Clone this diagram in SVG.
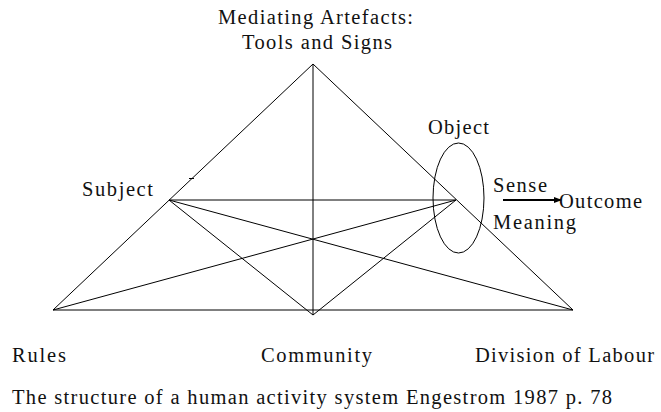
<svg xmlns="http://www.w3.org/2000/svg" width="661" height="412" viewBox="0 0 661 412">
<style>
  .ln { stroke: #000; stroke-width: 1; fill: none; }
  text { font-size: 20.5px; fill: #111; }
</style>
<defs>
  <marker id="arr" markerWidth="8" markerHeight="6" refX="7" refY="3" orient="auto" markerUnits="userSpaceOnUse">
    <path d="M0,0 L8,3 L0,6 Z" fill="#000"/>
  </marker>
</defs>
<rect width="661" height="412" fill="#fff"/>
<g id="connectors">
  <line class="ln" x1="313" y1="64" x2="53" y2="310"/>
  <line class="ln" x1="313" y1="64" x2="573" y2="310"/>
  <line class="ln" x1="53" y1="310" x2="573" y2="310"/>
  <line class="ln" x1="313" y1="64" x2="313" y2="315"/>
  <line class="ln" x1="169" y1="200" x2="456" y2="200"/>
  <line class="ln" x1="169" y1="200" x2="313" y2="315"/>
  <line class="ln" x1="456" y1="200" x2="313" y2="315"/>
  <line class="ln" x1="169" y1="200" x2="573" y2="310"/>
  <line class="ln" x1="456" y1="200" x2="53" y2="310"/>
  <line class="ln" x1="189" y1="178.5" x2="194" y2="178.5"/>
  <line x1="503" y1="200" x2="561" y2="200" stroke="#000" stroke-width="2" marker-end="url(#arr)"/>
</g>
<g font-family="Liberation Serif, Times New Roman, serif">
<g id="node-artefacts">
  <text x="218" y="24" textLength="195" lengthAdjust="spacing">Mediating Artefacts:</text>
  <text x="242" y="49" textLength="150" lengthAdjust="spacing">Tools and Signs</text>
</g>
<g id="node-subject">
  <text x="82" y="196" textLength="71" lengthAdjust="spacing">Subject</text>
</g>
<g id="node-object">
  <ellipse class="ln" cx="458.5" cy="198" rx="25.5" ry="55"/>
  <text x="428" y="134" textLength="61" lengthAdjust="spacing">Object</text>
</g>
<g id="node-sense">
  <text x="493" y="192" textLength="54" lengthAdjust="spacing">Sense</text>
  <text x="493" y="229" textLength="83" lengthAdjust="spacing">Meaning</text>
</g>
<g id="node-outcome">
  <text x="559" y="208" textLength="83" lengthAdjust="spacing">Outcome</text>
</g>
<g id="node-rules">
  <text x="12" y="362" textLength="54" lengthAdjust="spacing">Rules</text>
</g>
<g id="node-community">
  <text x="261" y="362" textLength="111" lengthAdjust="spacing">Community</text>
</g>
<g id="node-division">
  <text x="475" y="362" textLength="179" lengthAdjust="spacing">Division of Labour</text>
</g>
<g id="caption">
  <text x="12" y="404" textLength="600" lengthAdjust="spacing">The structure of a human activity system Engestrom 1987 p. 78</text>
</g>
</g>
</svg>
